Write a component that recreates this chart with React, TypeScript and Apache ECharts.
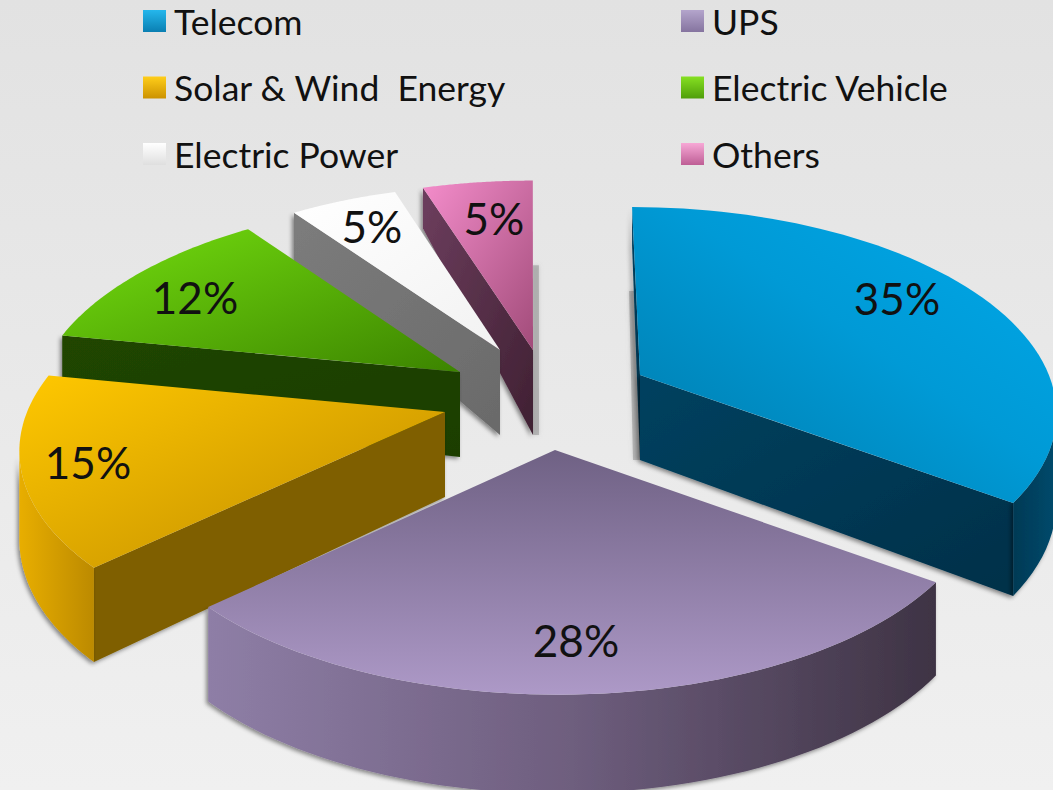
import React, { useEffect, useRef } from "react";
import * as echarts from "echarts";

const categories = ["Telecom", "UPS", "Solar & Wind  Energy", "Electric Vehicle", "Electric Power", "Others"];
const shares = [35, 28, 15, 12, 5, 5];
const leftLegend = ["Telecom", "Solar & Wind  Energy", "Electric Power"];
const rightLegend = ["UPS", "Electric Vehicle", "Others"];

// Layout and style, per slice, same order as categories
const apexes = [[640, 375], [555, 450], [445, 412], [460, 372], [500, 350], [533, 350]];
const radiusScale = [0.99, 1.02, 1.012, 1.015, 0.97, 1];
const labelOffsets = [[257, -77], [21, 190], [-357, 50], [-265, -75], [-128, -124], [-39, -132]];
const paintOrder = [5, 4, 3, 0, 2, 1];
const shadowStrips: Record<number, number> = { 0: -7, 5: 6 };
const topStops = [
  [[0, "#0079A8"], [0.55, "#009AD6"], [1, "#00A9EA"]],
  [[0, "#6F6184"], [1, "#AD99C7"]],
  [[0, "#FFC800"], [1, "#BE8A00"]],
  [[0, "#74DE0F"], [1, "#3C8400"]],
  [[0, "#FFFFFF"], [1, "#F2F2F2"]],
  [[0, "#F48DCB"], [1, "#A24C7A"]],
];
const topDirs = [[0, 1, 1, 0], [0, 0, 0, 1], [0, 0, 1, 1], [0, 0, 1, 1], [0, 0, 1, 1], [0, 0, 1, 1]];
const wallStops = [
  [[0, "#00415F"], [1, "#003049"]],
  [[0, "#6A5A80"], [1, "#3E3344"]],
  [[0, "#7F5F00"], [1, "#7F5F00"]],
  [[0, "#204500"], [1, "#1C3E00"]],
  [[0, "#7C7C7C"], [1, "#6A6A6A"]],
  [[0, "#6D3E5E"], [1, "#3F2032"]],
];
const curtainStops = [
  [[0, "#003A55"], [1, "#004A6C"]],
  [[0, "#8E7EA6"], [0.5, "#6E5E7E"], [1, "#3E3344"]],
  [[0, "#E8AE00"], [1, "#BC8A00"]],
  [[0, "#204500"], [1, "#204500"]],
  [[0, "#777777"], [1, "#777777"]],
  [[0, "#4D2338"], [1, "#4D2338"]],
];
const legendStops = [
  [[0, "#25B7EC"], [1, "#0A7FB2"]],
  [[0, "#B4A5CC"], [1, "#85749F"]],
  [[0, "#FFCE1A"], [1, "#CC9200"]],
  [[0, "#86E022"], [1, "#4F9E0A"]],
  [[0, "#FFFFFF"], [1, "#DFDFDF"]],
  [[0, "#F7A8D6"], [1, "#BE5E95"]],
];

const R = 413;
const D = 2428;
const TILT = 0.48;
const H = 85;
const CX = 530;
const TEXT = "#111111";
const FONT_FAMILY = "Lato";

const project = (a: number[], theta: number, r: number, z: number) => {
  const X = r * Math.sin(theta);
  const Y = -r * Math.cos(theta);
  const f = D / (D - Y);
  const depth = Y / R;
  const g = depth > 0 ? 1 + 0.16 * depth : 1 + 0.55 * depth;
  return [a[0] + X * f + (a[0] - CX) * (f - 1) * 0.5, a[1] + Y * TILT * f + z * g];
};
const gradient = (dir: number[], stops: any[]) =>
  new echarts.graphic.LinearGradient(dir[0], dir[1], dir[2], dir[3], stops.map((s) => ({ offset: s[0], color: s[1] })));

const total = shares.reduce((s, v) => s + v, 0);
const angleOf = (i: number) => (shares.slice(0, i).reduce((s, v) => s + v, 0) / total) * Math.PI * 2;

const shadow = { shadowColor: "rgba(0,0,0,0.45)", shadowBlur: 4, shadowOffsetX: -2, shadowOffsetY: 2 };

function renderSlice(i: number) {
  return () => {
    const a = apexes[i];
    const r = R * radiusScale[i];
    const t0 = angleOf(i);
    const t1 = angleOf(i + 1);
    const mid = project(a, (t0 + t1) / 2, r, 0);
    const steps = 60;
    const angles: number[] = [];
    for (let k = 0; k <= steps; k++) angles.push(t0 + ((t1 - t0) * k) / steps);
    const children: any[] = [];

    if (shadowStrips[i] !== undefined) {
      const dx = shadowStrips[i];
      const rim = project(a, i === 0 ? t0 : t1, r, 0);
      const from = [(a[0] + rim[0]) / 2, (a[1] + rim[1]) / 2];
      const to = [a[0], a[1] + H];
      children.push({
        type: "polygon",
        shape: { points: [from, to, [to[0] + dx, to[1]], [from[0] + dx, from[1]]] },
        style: { fill: "rgba(130,130,130,0.45)", shadowColor: "rgba(130,130,130,0.6)", shadowBlur: 4 },
      });
    }

    const wallVisible = (t: number) => {
      const rim = project(a, t, r, 0);
      const dx = rim[0] - a[0];
      const dy = rim[1] - a[1];
      if (Math.abs(dx) < 1e-6) return false;
      return a[1] + (dy / dx) * (mid[0] - a[0]) > mid[1];
    };
    [t0, t1].forEach((t) => {
      if (!wallVisible(t)) return;
      const rim = project(a, t, r, 0);
      const low = project(a, t, r, H);
      children.push({
        type: "polygon",
        shape: { points: [a, rim, low, [a[0], a[1] + H]] },
        style: { fill: gradient([0, 0, 1, 1], wallStops[i]), ...shadow },
      });
    });

    const front = angles.filter((t) => project(a, t + 0.001, r, 0)[0] < project(a, t, r, 0)[0]);
    if (front.length > 1) {
      const pts = front.map((t) => project(a, t, r, 0));
      const lows = front.map((t) => project(a, t, r, H)).reverse();
      children.push({
        type: "polygon",
        shape: { points: [...pts, ...lows] },
        style: { fill: gradient([0, 0, 1, 0], curtainStops[i]), ...shadow },
      });
    }

    const top = [a, ...angles.map((t) => project(a, t, r, 0))];
    children.push({
      type: "polygon",
      shape: { points: top },
      style: { fill: gradient(topDirs[i], topStops[i]) },
    });
    children.push({
      type: "text",
      style: {
        text: shares[i] + "%",
        x: a[0] + labelOffsets[i][0],
        y: a[1] + labelOffsets[i][1],
        fill: TEXT,
        font: `44px ${FONT_FAMILY}`,
        textAlign: "center",
        textVerticalAlign: "middle",
      },
    });
    return { type: "group", children };
  };
}

const legendBase = (left: number, names: string[]) => ({
  left,
  top: -1,
  orient: "vertical" as const,
  itemWidth: 23,
  itemHeight: 22,
  itemGap: 22.5,
  selectedMode: false,
  padding: 0,
  textStyle: { fontFamily: FONT_FAMILY, fontSize: 35.5, color: TEXT, lineHeight: 44, padding: [0, 0, 0, 3] },
  data: names.map((name) => ({
    name,
    icon: "rect",
    itemStyle: { color: gradient([0, 0, 0, 1], legendStops[categories.indexOf(name)]) },
  })),
});

export default function App() {
  const ref = useRef<HTMLDivElement>(null);
  useEffect(() => {
    document.body.style.margin = "0";
    const chart = echarts.init(ref.current!, undefined, { renderer: "svg" });
    chart.setOption({
      animation: false,
      backgroundColor: new echarts.graphic.LinearGradient(0, 0, 0, 1, [
        { offset: 0, color: "#E2E2E2" },
        { offset: 1, color: "#F0F0F0" },
      ]),
      legend: [legendBase(143, leftLegend), legendBase(681, rightLegend)],
      series: categories.map((name, i) => ({
        type: "custom",
        name,
        coordinateSystem: "none",
        z: 2 + paintOrder.indexOf(i),
        silent: true,
        itemStyle: { color: legendStops[i][0][1] },
        data: [shares[i]],
        renderItem: renderSlice(i),
      })),
    });
    return () => chart.dispose();
  }, []);
  return <div ref={ref} style={{ position: "fixed", left: 0, top: 0, width: 1053, height: 790 }} />;
}
